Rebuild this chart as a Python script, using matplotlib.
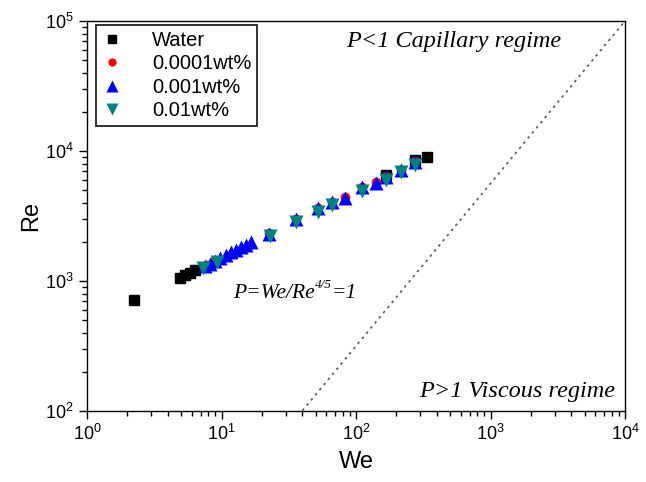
import matplotlib
matplotlib.use("Agg")
import matplotlib.pyplot as plt
import numpy as np

plt.rcParams['font.family'] = ['Liberation Sans', 'DejaVu Sans']
plt.rcParams['mathtext.fontset'] = 'custom'
plt.rcParams['mathtext.rm'] = 'Liberation Sans'
plt.rcParams['mathtext.it'] = 'Liberation Sans:italic'

# ---- data ----
water_we = [2.25, 4.92, 5.35, 5.83, 6.38, 167, 275, 337]
water_re = [720, 1059, 1112, 1158, 1219, 6538, 8527, 8991]

wt0001_we = [7.67, 8.8, 22.5, 35.8, 52.2, 66.3, 82.8, 110.8, 141, 167, 216, 275]
wt0001_re = [1330, 1425, 2340, 2999, 3643, 4053, 4428, 5285, 5774, 6424, 7142, 8377]

wt001_we = [7.54, 8.21, 8.95, 9.75, 10.8, 11.8, 12.8, 14.0, 15.2, 16.6,
            22.5, 35.8, 52.2, 66.3, 82.8, 110.8, 141, 167, 216, 275]
wt001_re = [1304, 1363, 1425, 1503, 1585, 1671, 1732, 1826, 1892, 1995,
            2300, 2999, 3643, 4053, 4350, 5285, 5673, 6310, 7142, 8232]

wt01_we = [7.29, 9.26, 22.8, 35.8, 52.2, 66.3, 110.8, 167, 216, 275]
wt01_re = [1259, 1400, 2220, 2843, 3394, 3842, 4925, 5983, 6896, 7806]

line_we = [40, 1e4]

fig = plt.figure(figsize=(6.46, 4.82), dpi=100)
ax = fig.add_axes([87/646, 1-411/482, (625-87)/646, (411-21)/482])

line_we_arr = np.array(line_we)
ax.plot(line_we_arr, line_we_arr**1.25, color='#555555', ls=(0, (1.5, 2.5)), lw=1.2, zorder=1)

ax.plot(water_we, water_re, 's', color='black', ms=7, label='Water', zorder=2)
ax.plot(wt0001_we, wt0001_re, 'o', color='#ff0000', ms=7, mec='none', label='0.0001wt%', zorder=3)
ax.plot(wt001_we, wt001_re, '^', color='#0000ff', ms=9.5, mec='none', label='0.001wt%', zorder=4)
ax.plot(wt01_we, wt01_re, 'v', color='#008080', ms=9.5, mec='none', label='0.01wt%', zorder=5)

ax.set_xscale('log')
ax.set_yscale('log')
ax.set_xlim(1, 1e4)
ax.set_ylim(1e2, 1e5)

ax.tick_params(which='major', direction='out', length=6, width=1, labelsize=13,
               top=False, right=False)
ax.tick_params(which='minor', direction='out', length=3.5, width=1, top=False, right=False)
ax.xaxis.set_minor_locator(matplotlib.ticker.LogLocator(base=10, subs=np.arange(2, 10)))
ax.yaxis.set_minor_locator(matplotlib.ticker.LogLocator(base=10, subs=np.arange(2, 10)))
ax.xaxis.set_minor_formatter(matplotlib.ticker.NullFormatter())
ax.yaxis.set_minor_formatter(matplotlib.ticker.NullFormatter())
for s in ax.spines.values():
    s.set_linewidth(1.0)

ax.set_xlabel('We', fontsize=17, labelpad=5)
ax.set_ylabel('Re', fontsize=17, labelpad=2)

leg = ax.legend(loc='upper left', bbox_to_anchor=(0.016, 0.99), fontsize=14.5,
                frameon=True, fancybox=False, edgecolor='#222222', framealpha=1,
                handlelength=1.0, handletextpad=1.5, labelspacing=0.22,
                borderpad=0.3, borderaxespad=0, numpoints=1, markerscale=0.85)
leg.get_frame().set_linewidth(1.3)

serif = dict(family=['Liberation Serif', 'DejaVu Serif'], style='italic', fontsize=17.5)
ax.text(0.882, 0.948, 'P<1 Capillary regime', transform=ax.transAxes, ha='right', va='center', **serif)
ax.text(0.982, 0.05, 'P>1 Viscous regime', transform=ax.transAxes, ha='right', va='center', **serif)

serif2 = dict(serif)
serif2['fontsize'] = 15.5
t1 = ax.text((233-87)/538, (411-298)/390, 'P=We/Re', transform=ax.transAxes,
             ha='left', va='baseline', **serif2)
sup = dict(serif)
sup['fontsize'] = 9.5
t2 = ax.annotate('4/5', xy=(1, 0.62), xycoords=t1, ha='left', va='bottom', **sup)
t3 = ax.annotate('=1', xy=(1, 0), xycoords=(t2, t1), ha='left', va='bottom', **serif2)

fig.savefig('out.png', dpi=100)
